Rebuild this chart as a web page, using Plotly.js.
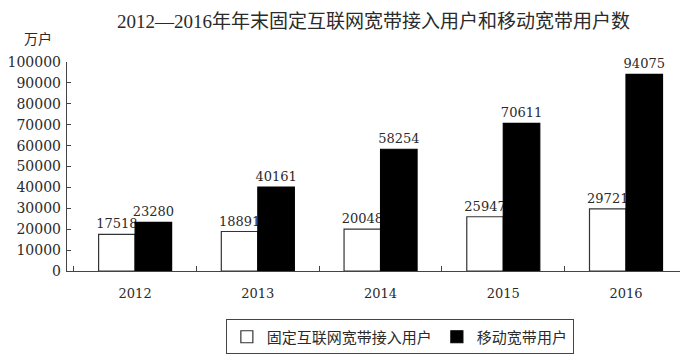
<!DOCTYPE html>
<html>
<head>
<meta charset="utf-8">
<script src="https://cdn.plot.ly/plotly-3.0.1.min.js"></script>
<style>html,body{margin:0;padding:0;background:#fff;}#chart{width:697px;height:361px;}</style>
</head>
<body>
<div id="chart"></div>
<script>
const years = ['2012', '2013', '2014', '2015', '2016'];
const fixedBroadband = [17518, 18891, 20048, 25947, 29721];
const mobileBroadband = [23280, 40161, 58254, 70611, 94075];
const seriesNames = ['固定互联网宽带接入用户', '移动宽带用户'];
const yTicks = [0, 10000, 20000, 30000, 40000, 50000, 60000, 70000, 80000, 90000, 100000];

const NUMFONT = 'DejaVu Serif, Liberation Serif, serif';
const CJKFONT = 'Liberation Serif, Noto Sans CJK SC, serif';
const txt = '#2a2a2a';

const traces = [
  {
    type: 'bar', x: years, y: fixedBroadband, name: seriesNames[0],
    marker: {color: '#ffffff', line: {color: '#333', width: 1.2}},
    text: fixedBroadband.map(String), textposition: 'outside', cliponaxis: false,
    constraintext: 'none',
    textfont: {family: NUMFONT, size: 13, color: txt}
  },
  {
    type: 'bar', x: years, y: mobileBroadband, name: seriesNames[1],
    marker: {color: '#000000', line: {color: '#000', width: 1.2}},
    text: mobileBroadband.map(String), textposition: 'outside', cliponaxis: false,
    constraintext: 'none',
    textfont: {family: NUMFONT, size: 13, color: txt}
  }
];

const layout = {
  width: 697, height: 361,
  margin: {l: 67, r: 17, t: 62, b: 90, autoexpand: false},
  paper_bgcolor: '#fff', plot_bgcolor: '#fff',
  font: {family: CJKFONT, color: txt, size: 13},
  title: {text: '2012—2016年年末固定互联网宽带接入用户和移动宽带用户数',
          xref: 'paper', x: 0.5, xanchor: 'center', y: 0.94, yanchor: 'middle',
          font: {family: CJKFONT, size: 19, color: txt}},
  barmode: 'group', bargap: 0.405, bargroupgap: 0,
  showlegend: true,
  legend: {orientation: 'h', x: 0.543, xanchor: 'center', y: -0.232, yanchor: 'top',
           bordercolor: '#444', borderwidth: 1, bgcolor: '#fff',
           font: {family: CJKFONT, size: 15, color: txt}, itemwidth: 30, tracegroupgap: 0},
  xaxis: {
    type: 'category', range: [-0.555, 4.44], showline: true, linecolor: '#444', linewidth: 1.2,
    ticks: 'inside', tickson: 'boundaries', ticklen: 5, tickcolor: '#444',
    showgrid: false, zeroline: false, ticklabelstandoff: 10,
    tickfont: {family: NUMFONT, size: 13, color: txt}
  },
  yaxis: {
    range: [0, 100000], tickvals: yTicks, ticktext: yTicks.map(String),
    showline: true, linecolor: '#444', linewidth: 1.2,
    ticks: 'inside', ticklen: 4, tickcolor: '#444',
    showgrid: false, zeroline: false, ticklabelstandoff: 2,
    tickfont: {family: NUMFONT, size: 14, color: txt}
  },
  annotations: [{
    text: '万户', xref: 'paper', yref: 'paper', x: -0.047, y: 1.11,
    xanchor: 'center', yanchor: 'middle', showarrow: false,
    font: {family: CJKFONT, size: 14, color: txt}
  }]
};

Plotly.newPlot('chart', traces, layout, {displayModeBar: false, staticPlot: true});
</script>
</body>
</html>
